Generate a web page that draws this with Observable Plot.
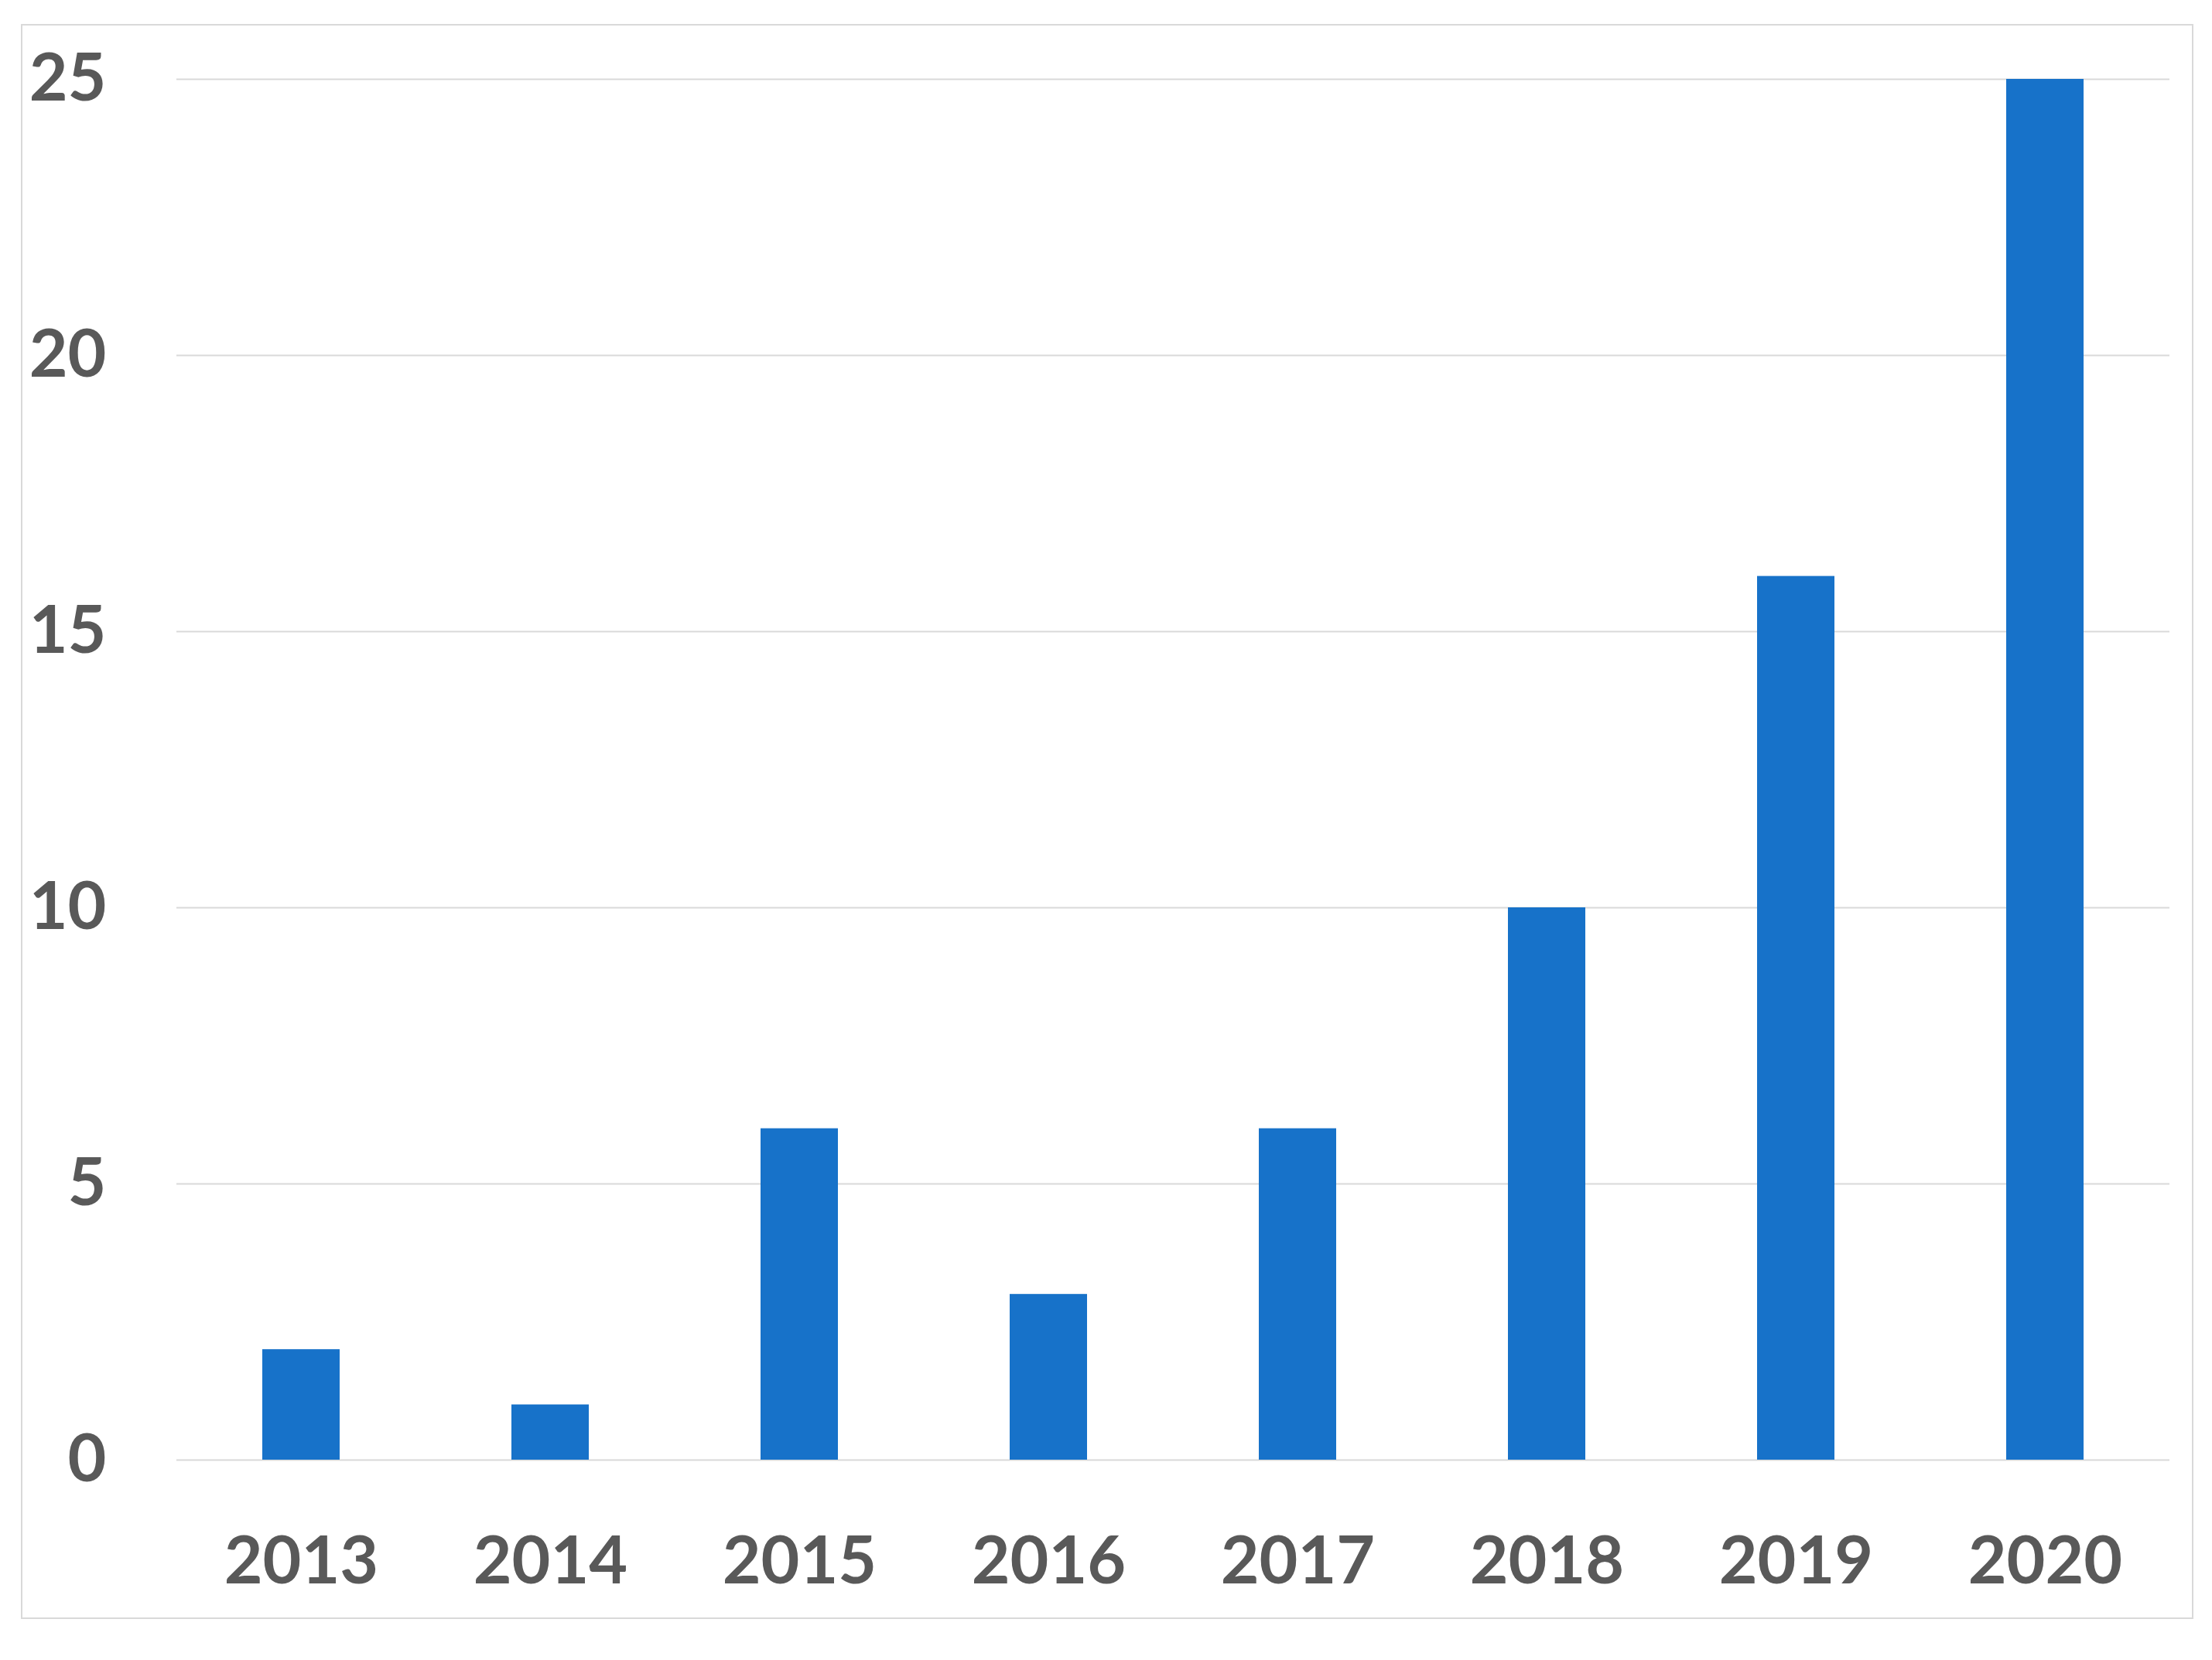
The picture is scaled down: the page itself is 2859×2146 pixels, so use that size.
<!DOCTYPE html>
<html>
<head>
<meta charset="utf-8">
<script src="https://cdn.jsdelivr.net/npm/d3@7"></script>
<script src="https://cdn.jsdelivr.net/npm/@observablehq/plot@0.6"></script>
<style>
  html, body { margin: 0; padding: 0; background: #ffffff; }
  #frame {
    position: absolute; left: 27px; top: 31px;
    width: 2808px; height: 2062px; box-sizing: border-box;
    border: 2px solid #d9d9d9; background: #ffffff;
  }
  #frame svg { display: block; }
</style>
</head>
<body>
<div id="frame"></div>
<script>
const years = ["2013", "2014", "2015", "2016", "2017", "2018", "2019", "2020"];
const counts = [2, 1, 6, 3, 6, 10, 16, 25];
const yTicks = [0, 5, 10, 15, 20, 25];

const data = years.map((year, i) => ({year, count: counts[i]}));

const chart = Plot.plot({
  width: 2804,
  height: 2058,
  marginLeft: 199,
  marginRight: 29,
  marginTop: 69,
  marginBottom: 204,
  style: {fontFamily: "Lato, 'Open Sans', sans-serif", fontSize: "86px", background: "#ffffff"},
  x: {domain: years, paddingInner: 0.688, paddingOuter: 0.344},
  y: {domain: [0, 25]},
  marks: [
    Plot.ruleY(yTicks, {stroke: "#d9d9d9", strokeWidth: 2}),
    Plot.barY(data, {x: "year", y: "count", fill: "#1772c9"}),
    Plot.axisY(yTicks, {tickSize: 0, tickPadding: 91, tickFormat: d3.format("d"), fontSize: 86, fontWeight: 700, fill: "#595959", label: null}),
    Plot.axisX({tickSize: 0, tickPadding: 98, fontSize: 86, fontWeight: 700, fill: "#595959", label: null})
  ]
});
document.getElementById("frame").appendChild(chart);
</script>
</body>
</html>
